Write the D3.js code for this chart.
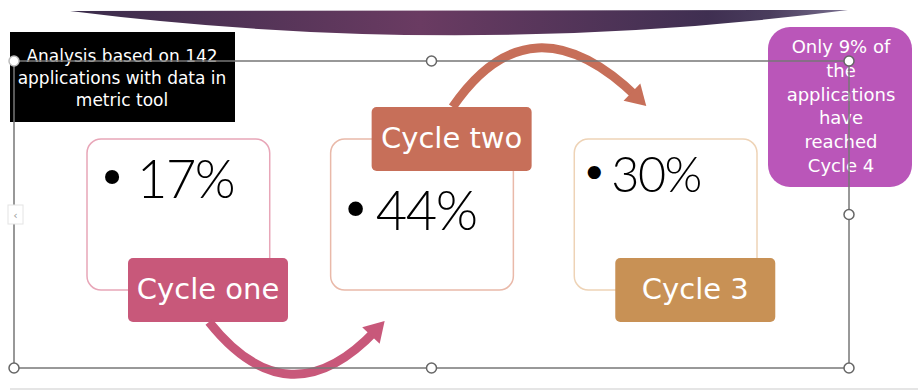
<!DOCTYPE html>
<html>
<head>
<meta charset="utf-8">
<script src="https://cdn.jsdelivr.net/npm/d3@7"></script>
<style>
  body { margin: 0; background: #fff; }
  svg { display: block; }
</style>
</head>
<body>
<svg id="slide"></svg>
<script>
  // slide content
  const cycles = ["Cycle one", "Cycle two", "Cycle 3"];
  const shares = [17, 44, 30];
  const labelSide = ["bottom", "top", "bottom"];
  const noteLeft = ["Analysis based on 142", "applications with data in", "metric tool"];
  const noteRight = ["Only 9% of", "the", "applications", "have", "reached", "Cycle 4"];

  const color = {
    "Cycle one": "#c8587a",
    "Cycle two": "#c76f59",
    "Cycle 3": "#c89155",
  };
  const outline = {
    "Cycle one": "#e8a6b8",
    "Cycle two": "#e9b9a9",
    "Cycle 3": "#eed3b6",
  };
  // percentage text placement inside each box
  const pctStyle = [
    { size: 54, bx: 25, dx: 50, dy: 59 },
    { size: 56, bx: 25, dx: 45, dy: 91 },
    { size: 50, bx: 20, dx: 37, dy: 53 },
  ];

  const size = { width: 918, height: 392 };
  const font = "'DejaVu Sans', Verdana, sans-serif";
  const numFont = "Lato, 'Liberation Sans', sans-serif";

  const svg = d3.select("#slide").attr("width", size.width).attr("height", size.height);

  // banner at the top
  const defs = svg.append("defs");
  const grad = defs.append("linearGradient").attr("id", "banner");
  [
    [0, "#3a2c4b"],
    [0.45, "#6a3b62"],
    [0.82, "#3f2f51"],
    [0.9, "#4a3d5d"],
    [1, "#7a7090"],
  ].forEach(([o, c]) => grad.append("stop").attr("offset", o).attr("stop-color", c));

  svg
    .append("path")
    .attr("d", "M70,11 L848,10 Q459,60 70,11 Z")
    .attr("fill", "url(#banner)");

  // x positions of the three boxes
  const x = d3.scaleBand().domain(cycles).range([87, 757]).paddingInner(0.25);
  const boxTop = 139;
  const boxH = 151;
  const labelW = 160;
  const labelH = 64;

  const labelY = (i) => (labelSide[i] === "top" ? 107 : 258);

  const boxes = svg
    .append("g")
    .selectAll("g")
    .data(cycles)
    .join("g");

  boxes
    .append("rect")
    .attr("x", (d) => x(d))
    .attr("y", boxTop)
    .attr("width", x.bandwidth())
    .attr("height", boxH)
    .attr("rx", 14)
    .attr("fill", "#fff")
    .attr("stroke", (d) => outline[d])
    .attr("stroke-width", 1.5);

  boxes
    .append("text")
    .attr("x", (d, i) => x(d) + pctStyle[i].bx)
    .attr("y", (d, i) => boxTop + pctStyle[i].dy - pctStyle[i].size * 0.06)
    .attr("text-anchor", "middle")
    .style("font-family", font)
    .style("font-size", (d, i) => pctStyle[i].size * 0.9 + "px")
    .attr("fill", "#000")
    .text("•");

  boxes
    .append("text")
    .attr("x", (d, i) => x(d) + pctStyle[i].dx)
    .attr("y", (d, i) => boxTop + pctStyle[i].dy)
    .style("font-family", numFont)
    .style("font-weight", 300)
    .style("letter-spacing", "-1.5px")
    .style("font-size", (d, i) => pctStyle[i].size * 0.97 + "px")
    .attr("fill", "#000")
    .text((d, i) => shares[i] + "%");

  boxes
    .append("rect")
    .attr("x", (d) => x(d) + 41)
    .attr("y", (d, i) => labelY(i))
    .attr("width", labelW)
    .attr("height", labelH)
    .attr("rx", 5)
    .attr("fill", (d) => color[d]);

  boxes
    .append("text")
    .attr("x", (d) => x(d) + 41 + labelW / 2)
    .attr("y", (d, i) => labelY(i) + 41)
    .attr("text-anchor", "middle")
    .style("font-family", font)
    .style("font-size", "29px")
    .attr("fill", "#fff")
    .text((d) => d);

  // curved arrows between cycles
  const arrows = svg.append("g");
  cycles.slice(0, -1).forEach((d, i) => {
    const next = cycles[i + 1];
    const down = labelSide[i] === "bottom";
    const s = down ? [x(d) + 122, labelY(i) + labelH] : [x(d) + 122, labelY(i)];
    const t = down ? [x(next) + 54, 321] : [x(next) + 72, 106];
    const extreme = down ? 372 : 50;
    const mid = down ? 293 : 540;
    const c = [2 * mid - (s[0] + t[0]) / 2, 2 * extreme - (s[1] + t[1]) / 2];
    const len = Math.hypot(t[0] - c[0], t[1] - c[1]);
    const u = [(t[0] - c[0]) / len, (t[1] - c[1]) / len];
    const n = [-u[1], u[0]];
    const e = [t[0] - u[0] * 12, t[1] - u[1] * 12];

    arrows
      .append("path")
      .attr("d", `M${s[0]},${s[1]} Q${c[0]},${c[1]} ${e[0]},${e[1]}`)
      .attr("fill", "none")
      .attr("stroke", color[d])
      .attr("stroke-width", 9);

    const b = [t[0] - u[0] * 20, t[1] - u[1] * 20];
    arrows
      .append("path")
      .attr(
        "d",
        `M${t[0]},${t[1]} L${b[0] + n[0] * 12},${b[1] + n[1] * 12} L${b[0] - n[0] * 12},${b[1] - n[1] * 12} Z`
      )
      .attr("fill", color[d]);
  });

  // note boxes
  svg.append("rect").attr("x", 10).attr("y", 32).attr("width", 225).attr("height", 90).attr("fill", "#000");
  svg
    .append("g")
    .selectAll("text")
    .data(noteLeft)
    .join("text")
    .attr("x", 122)
    .attr("y", (d, i) => 62 + i * 22)
    .attr("text-anchor", "middle")
    .style("font-family", font)
    .style("font-size", "17px")
    .attr("fill", "#fff")
    .text((d) => d);

  svg
    .append("rect")
    .attr("x", 768)
    .attr("y", 27)
    .attr("width", 144)
    .attr("height", 160)
    .attr("rx", 22)
    .attr("fill", "#ba56b9");
  svg
    .append("g")
    .selectAll("text")
    .data(noteRight)
    .join("text")
    .attr("x", 841)
    .attr("y", (d, i) => 53 + i * 23.8)
    .attr("text-anchor", "middle")
    .style("font-family", font)
    .style("font-size", "18px")
    .attr("fill", "#fff")
    .text((d) => d);

  // selection frame drawn over the slide
  const frame = { x0: 14, x1: 849, y0: 61, y1: 368 };
  const fx = (frame.x0 + frame.x1) / 2;
  const fy = (frame.y0 + frame.y1) / 2;

  svg
    .append("line")
    .attr("x1", 10)
    .attr("x2", size.width)
    .attr("y1", 389)
    .attr("y2", 389)
    .attr("stroke", "#dcdcdc")
    .attr("stroke-width", 1.5);

  svg
    .append("rect")
    .attr("x", frame.x0)
    .attr("y", frame.y0)
    .attr("width", frame.x1 - frame.x0)
    .attr("height", frame.y1 - frame.y0)
    .attr("fill", "none")
    .attr("stroke", "#777")
    .attr("stroke-width", 1.5);

  const handles = [
    [frame.x0, frame.y0],
    [fx, frame.y0],
    [frame.x1, frame.y0],
    [frame.x1, fy],
    [frame.x0, frame.y1],
    [fx, frame.y1],
    [frame.x1, frame.y1],
  ];
  svg
    .append("g")
    .selectAll("circle")
    .data(handles)
    .join("circle")
    .attr("cx", (d) => d[0])
    .attr("cy", (d) => d[1])
    .attr("r", 5)
    .attr("fill", "#fff")
    .attr("stroke", (d, i) => (i === 0 ? "#bbb" : "#666"))
    .attr("stroke-width", 1.5);

  // collapse tab on the left edge
  svg
    .append("rect")
    .attr("x", 8)
    .attr("y", 205)
    .attr("width", 15)
    .attr("height", 19)
    .attr("fill", "#fff")
    .attr("stroke", "#e4e4e4");
  svg
    .append("text")
    .attr("x", 15.5)
    .attr("y", 219)
    .attr("text-anchor", "middle")
    .style("font-family", font)
    .style("font-size", "11px")
    .attr("fill", "#999")
    .text("‹");
</script>
</body>
</html>
